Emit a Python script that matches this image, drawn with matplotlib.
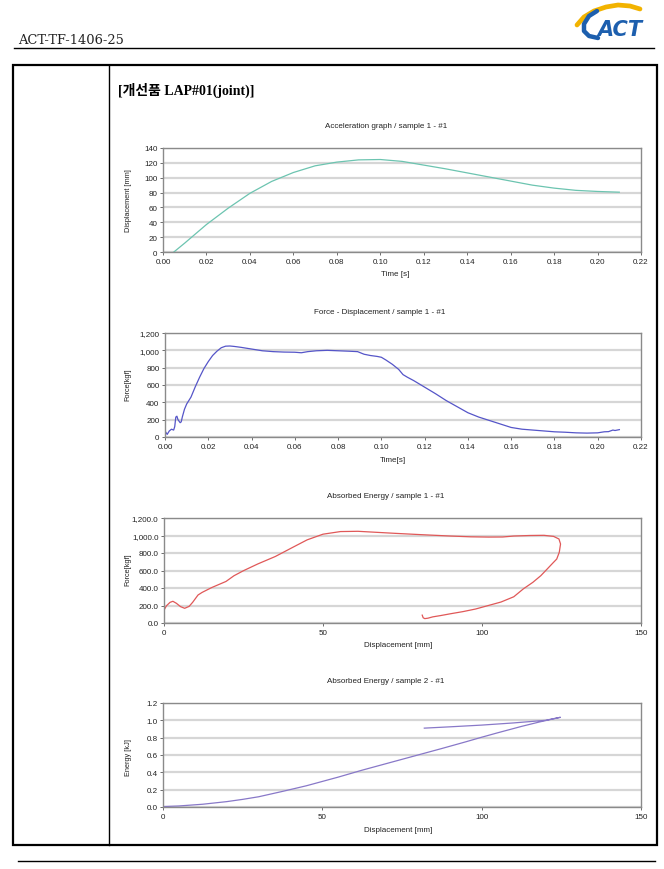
import matplotlib
matplotlib.use("Agg")
import matplotlib.pyplot as plt
from matplotlib.ticker import FuncFormatter

W, H = 664, 870

# chart 1 : displacement vs time
t1 = [0.005, 0.01, 0.02, 0.03, 0.04, 0.05, 0.06, 0.07, 0.08, 0.09, 0.10,
      0.11, 0.12, 0.13, 0.14, 0.15, 0.16, 0.17, 0.18, 0.19, 0.20, 0.21]
d1 = [0, 12, 37, 59, 79, 95, 107, 116, 121, 124, 124.5,
      122, 117, 112, 106.5, 101, 95.5, 90, 86, 83, 81.5, 80.5]

# chart 2 : force vs time
t2 = [0.000, 0.001, 0.002, 0.003, 0.004, 0.0045, 0.005, 0.0055, 0.006, 0.007,
      0.0075, 0.008, 0.009, 0.010, 0.012, 0.014, 0.016, 0.018, 0.020, 0.022,
      0.024, 0.026, 0.028, 0.030, 0.032, 0.035, 0.040, 0.045, 0.050, 0.055,
      0.060, 0.063, 0.066, 0.070, 0.075, 0.080, 0.085, 0.089, 0.092, 0.095,
      0.098, 0.100, 0.102, 0.105, 0.108, 0.110, 0.112, 0.115, 0.120, 0.125,
      0.130, 0.135, 0.140, 0.145, 0.150, 0.155, 0.160, 0.165, 0.170, 0.175,
      0.180, 0.185, 0.190, 0.195, 0.200, 0.203, 0.205, 0.207, 0.208, 0.210]
f2 = [70, 30, 70, 90, 80, 120, 230, 240, 200, 165,
      175, 230, 320, 380, 460, 580, 690, 790, 870, 940,
      990, 1030, 1048, 1050, 1045, 1035, 1015, 995, 985, 980,
      978, 972, 985, 995, 1000, 995, 990, 985, 955, 940,
      930, 920, 890, 840, 780, 720, 690, 650, 575, 500,
      420, 350, 280, 230, 190, 150, 110, 90, 80, 70,
      60, 55, 48, 45, 48, 60, 62, 80, 75, 85]

# chart 3 : force vs displacement
d3 = [0.2, 0.8, 1.9, 2.8, 3.9, 5.2, 6.5, 7.9, 9.0, 10.7,
      12, 15, 19.5, 22, 25, 29.5, 35, 40.5, 45, 50,
      55.5, 61, 67, 72.5, 79, 83.5, 90, 96.5, 102, 106.5,
      110, 115, 119.5, 122.5, 124.2, 124.7, 124.3, 123.5, 122.3, 120.5,
      118.5, 116, 113, 110, 106, 102, 98, 94, 90, 87,
      84.5, 83, 82, 81.5, 81.2]
f3 = [160, 198, 236, 248, 225, 187, 168, 190, 236, 320,
      350, 405, 475, 540, 598, 675, 760, 865, 950, 1015,
      1045, 1048, 1036, 1025, 1013, 1005, 994, 985, 982, 983,
      994, 1000, 1002, 990, 960, 903, 808, 731, 686, 617,
      541, 465, 390, 300, 240, 200, 160, 130, 105, 85,
      70, 55, 50, 60, 90]

# chart 4 : energy vs displacement
d4 = [0, 5, 12.5, 20, 25, 30, 37.5, 45, 50, 55, 62.5, 70, 75, 80, 87.5,
      95, 100, 105, 112.5, 118, 124.7, 120, 115, 110, 100, 90, 82]
e4 = [0.005, 0.012, 0.032, 0.062, 0.088, 0.118, 0.18, 0.245, 0.295, 0.345, 0.425,
      0.5, 0.55, 0.6, 0.675, 0.752, 0.805, 0.856, 0.93, 0.98, 1.035, 1.0, 0.985,
      0.97, 0.945, 0.925, 0.91]

time_ticks = [0.00, 0.02, 0.04, 0.06, 0.08, 0.10, 0.12, 0.14, 0.16, 0.18, 0.20, 0.22]
disp_ticks = [0, 50, 100, 150]

plt.rcParams['font.family'] = ['Liberation Sans', 'DejaVu Sans']

fig = plt.figure(figsize=(W / 100, H / 100), dpi=100)
fig.patch.set_facecolor('white')

# page frame, in pixel units
page = fig.add_axes([0, 0, 1, 1])
page.set_xlim(0, W)
page.set_ylim(H, 0)
page.axis('off')

page.plot([14, 654], [49, 49], color='black', lw=1.0)
page.plot([18, 655], [862, 862], color='black', lw=1.0)
page.add_patch(plt.Rectangle((13, 66), 644, 780, fill=False, ec='black', lw=1.6))
page.plot([109, 109], [66, 846], color='black', lw=1.0)

page.text(18, 41, 'ACT-TF-1406-25', family='DejaVu Serif', fontsize=9.4,
          va='center', ha='left', color='#222222')
page.text(118, 90, '[개선품 LAP#01(joint)]',
          family=['Liberation Serif', 'Noto Sans CJK KR'], fontsize=10,
          fontweight='bold', va='center', ha='left')

# logo
page.plot([577, 584, 594, 606, 618, 630, 640], [26, 18, 12, 8, 6, 7, 10],
          color='#f2b300', lw=3.4, solid_capstyle='round')
page.plot([597, 589, 584, 584, 589, 598], [12, 17, 25, 32, 37, 39],
          color='#1d5fae', lw=3.2, solid_capstyle='round')
page.text(597, 30, 'ACT', color='#1d5fae', fontsize=15, fontweight='bold',
          style='italic', va='center', ha='left', family='DejaVu Sans')


def make_axes(l, t, r, b):
    ax = fig.add_axes([l / W, 1 - b / H, (r - l) / W, (b - t) / H])
    ax.set_facecolor('white')
    for s in ax.spines.values():
        s.set_color('#8a8a8a')
        s.set_linewidth(1.0)
    ax.grid(axis='y', color='#d6d6d6', lw=1.6)
    ax.set_axisbelow(True)
    ax.tick_params(labelsize=5.8, colors='#555555', labelcolor='#222222',
                   length=2, width=0.6, pad=2)
    return ax


def label(x, y, s, rot=0, size=5.8):
    fig.text(x / W, 1 - y / H, s, fontsize=size, rotation=rot,
             ha='center', va='center', color='#222222')


# chart 1
ax1 = make_axes(163, 149, 641, 253)
ax1.plot(t1, d1, color='#6cc4b0', lw=0.9)
ax1.set_xlim(0, 0.22)
ax1.set_ylim(0, 140)
ax1.set_xticks(time_ticks)
ax1.set_yticks(range(0, 141, 20))
ax1.xaxis.set_major_formatter(FuncFormatter(lambda v, p: f'{v:.2f}'))
label(386, 126, 'Acceleration graph / sample 1 - #1')
label(395, 275, 'Time [s]')
label(128, 201, 'Displacement [mm]', rot=90, size=5.3)

# chart 2
ax2 = make_axes(165, 334, 641, 438)
ax2.plot(t2, f2, color='#5555c8', lw=0.9)
ax2.set_xlim(0, 0.22)
ax2.set_ylim(0, 1200)
ax2.set_xticks(time_ticks)
ax2.set_yticks(range(0, 1201, 200))
ax2.xaxis.set_major_formatter(FuncFormatter(lambda v, p: f'{v:.2f}'))
ax2.yaxis.set_major_formatter(FuncFormatter(lambda v, p: f'{v:,.0f}'))
label(380, 312, 'Force - Displacement / sample 1 - #1')
label(393, 461, 'Time[s]')
label(128, 385, 'Force[kgf]', rot=90, size=5.3)

# chart 3
ax3 = make_axes(164, 519, 641, 624)
ax3.plot(d3, f3, color='#e05858', lw=0.9)
ax3.set_xlim(0, 150)
ax3.set_ylim(0, 1200)
ax3.set_xticks(disp_ticks)
ax3.set_yticks(range(0, 1201, 200))
ax3.yaxis.set_major_formatter(FuncFormatter(lambda v, p: f'{v:,.1f}'))
label(386, 497, 'Absorbed Energy / sample 1 - #1')
label(398, 646, 'Displacement [mm]')
label(128, 570, 'Force[kgf]', rot=90, size=5.3)

# chart 4
ax4 = make_axes(163, 704, 641, 808)
ax4.plot(d4, e4, color='#8878c8', lw=0.9)
ax4.set_xlim(0, 150)
ax4.set_ylim(0, 1.2)
ax4.set_xticks(disp_ticks)
ax4.set_yticks([0.0, 0.2, 0.4, 0.6, 0.8, 1.0, 1.2])
ax4.yaxis.set_major_formatter(FuncFormatter(lambda v, p: f'{v:.1f}'))
label(386, 682, 'Absorbed Energy / sample 2 - #1')
label(398, 831, 'Displacement [mm]')
label(128, 758, 'Energy [kJ]', rot=90, size=5.3)

fig.savefig('out.png', dpi=100, facecolor='white')
